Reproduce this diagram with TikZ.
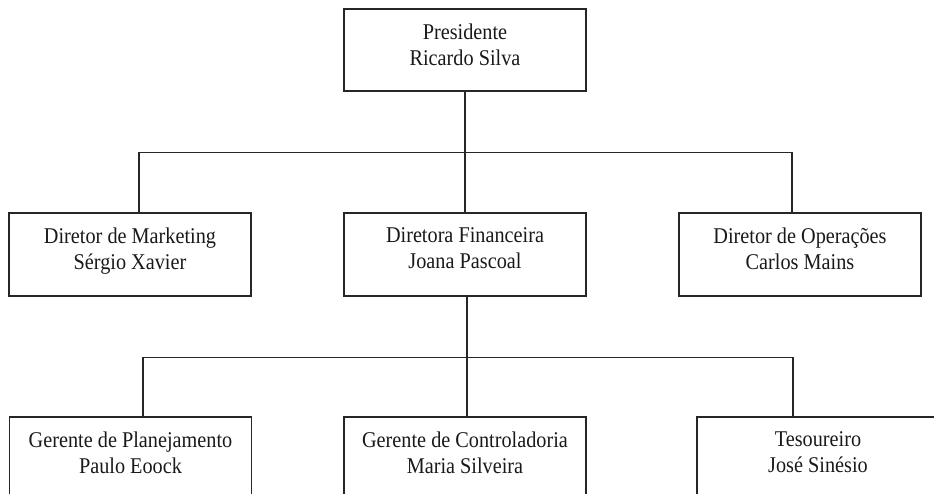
\documentclass[tikz,border=0pt]{standalone}
\usepackage{fontspec}
\setmainfont{Liberation Serif}[FakeStretch=0.9]
\begin{document}
\begin{tikzpicture}[x=1pt,y=-1pt,
  box/.style={draw=black!85, line width=1.4pt, minimum width=242pt, inner sep=0pt},
  lbl/.style={font=\fontsize{22.5}{26}\selectfont, align=center, inner sep=0pt, anchor=north, text=black!90},
  link/.style={draw=black!85, line width=1.4pt}]
\useasboundingbox (0,0) rectangle (934,494);
\clip (0,0) rectangle (934,494);
% boxes
\node[box, minimum height=82pt] (pres) at (465,50) {};
\node[box, minimum height=83pt] (mk) at (130,254.5) {};
\node[box, minimum height=83pt] (fin) at (465,254.5) {};
\node[box, minimum height=83pt] (op) at (800,254.5) {};
\node[box, minimum height=110pt] (pl) at (130.5,472) {};
\node[box, minimum height=110pt] (ct) at (465,472) {};
\node[box, minimum height=110pt] (te) at (818,472) {};
% labels
\node[lbl] (tpres) at ([yshift=-15.5pt]pres.north) {Presidente\\Ricardo Silva};
\node[lbl] (tmk) at ([yshift=-15.5pt]mk.north) {Diretor de Marketing\\Sérgio Xavier};
\node[lbl] (tfin) at ([yshift=-15.5pt]fin.north) {Diretora Financeira\\Joana Pascoal};
\node[lbl] (top) at ([yshift=-15.5pt]op.north) {Diretor de Operações\\Carlos Mains};
\node[lbl] (tpl) at ([yshift=-15.5pt]pl.north) {Gerente de Planejamento\\Paulo Eoock};
\node[lbl] (tct) at ([yshift=-15.5pt]ct.north) {Gerente de Controladoria\\Maria Silveira};
\node[lbl] (tte) at ([yshift=-15.5pt]te.north) {Tesoureiro\\José Sinésio};
% connectors
\draw[link] (pres.south) -- ++(0,61) coordinate (j1);
\draw[link] ([xshift=9pt]mk.north) |- (j1) -| ([xshift=-8pt]op.north);
\draw[link] (j1) -- (fin.north);
\draw[link] ([xshift=2pt]fin.south) -- ++(0,61) coordinate (j2);
\draw[link] ([xshift=12.5pt]pl.north) |- (j2) -| ([xshift=-25pt]te.north);
\draw[link] (j2) -- ([xshift=2pt]ct.north);
\end{tikzpicture}
\end{document}
